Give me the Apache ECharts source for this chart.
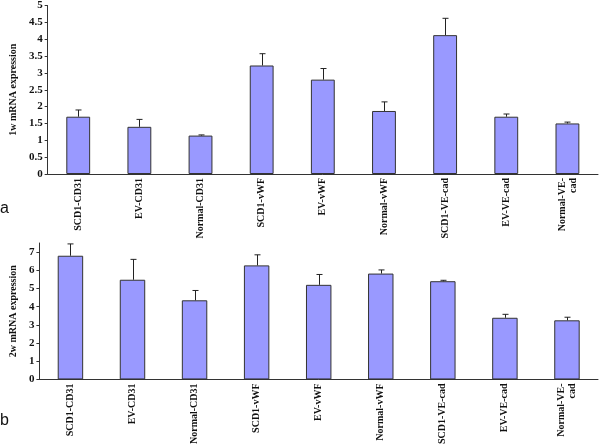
<!DOCTYPE html>
<html>
<head>
<meta charset="utf-8">
<script src="https://cdn.jsdelivr.net/npm/echarts@6/dist/echarts.min.js"></script>
<style>
  html, body { margin: 0; padding: 0; background: #fff; }
  #chart { width: 600px; height: 447px; }
</style>
</head>
<body>
<div id="chart"></div>
<script>
// categories (same for both panels)
const categories = ['SCD1-CD31', 'EV-CD31', 'Normal-CD31', 'SCD1-vWF', 'EV-vWF',
  'Normal-vWF', 'SCD1-VE-cad', 'EV-VE-cad', 'Normal-VE-\ncad']

// panel a: 1w
const means1 = [1.70, 1.40, 1.14, 3.22, 2.80, 1.87, 4.12, 1.70, 1.50]
const err1 = [0.20, 0.22, 0.02, 0.35, 0.33, 0.27, 0.50, 0.08, 0.04]

// panel b: 2w
const means2 = [6.80, 5.48, 4.35, 6.27, 5.20, 5.82, 5.40, 3.39, 3.25]
const err2 = [0.65, 1.12, 0.54, 0.58, 0.57, 0.20, 0.05, 0.19, 0.17]

const yTicks2 = [0, 1, 2, 3, 4, 5, 6, 7]

const serif = '"Liberation Serif", "DejaVu Serif", serif'
const barColor = '#9999ff'

function errData(means, errs) {
  return means.map((m, i) => [i, m, m + errs[i]])
}

// error bar: stem up from the bar top plus a small cap
function renderErr(params, api) {
  const base = api.coord([api.value(0), api.value(1)])
  const top = api.coord([api.value(0), api.value(2)])
  const x = Math.round(base[0]) + 0.5
  const style = { stroke: '#222', lineWidth: 1 }
  return {
    type: 'group',
    children: [
      { type: 'line', shape: { x1: x, y1: base[1], x2: x, y2: top[1] }, style: style },
      { type: 'line', shape: { x1: x - 3, y1: top[1], x2: x + 3, y2: top[1] }, style: style }
    ]
  }
}

const xAxisBase = {
  type: 'category',
  data: categories,
  axisLine: { lineStyle: { color: '#333', width: 1 } },
  axisTick: { length: 3, lineStyle: { color: '#333' } },
  axisLabel: {
    rotate: 90,
    interval: 0,
    margin: 4,
    fontFamily: serif,
    fontWeight: 'bold',
    fontSize: 10,
    color: '#111',
    lineHeight: 11
  }
}

const yAxisBase = {
  type: 'value',
  min: 0,
  nameLocation: 'middle',
  nameRotate: 90,
  nameTextStyle: { fontFamily: serif, fontWeight: 'bold', fontSize: 10, color: '#111' },
  axisLine: { show: true, lineStyle: { color: '#333', width: 1 } },
  axisTick: { show: true, length: 3, lineStyle: { color: '#333' } },
  axisLabel: { fontFamily: serif, fontWeight: 'bold', fontSize: 11, color: '#111', margin: 5 },
  splitLine: { show: false }
}

const chart = echarts.init(document.getElementById('chart'))

const option = {
  backgroundColor: '#fff',
  animation: false,
  grid: [
    { left: 41, right: 2, top: 4, height: 170 },
    { left: 36, right: 2, top: 243, height: 142 }
  ],
  xAxis: [
    Object.assign({}, xAxisBase, { gridIndex: 0 }),
    Object.assign({}, xAxisBase, { gridIndex: 1 })
  ],
  yAxis: [
    Object.assign({}, yAxisBase, {
      gridIndex: 0, max: 5, interval: 0.5,
      name: '1w mRNA expression', nameGap: 27
    }),
    Object.assign({}, yAxisBase, {
      gridIndex: 1, max: 7.5, interval: 1,
      name: '2w mRNA expression', nameGap: 21,
      axisTick: { show: true, length: 3, lineStyle: { color: '#333' }, customValues: yTicks2 },
      axisLabel: Object.assign({}, yAxisBase.axisLabel, { customValues: yTicks2 })
    })
  ],
  series: [
    {
      type: 'bar', xAxisIndex: 0, yAxisIndex: 0,
      data: means1, barWidth: '39%',
      itemStyle: { color: barColor, borderColor: '#333', borderWidth: 1 }
    },
    {
      type: 'custom', xAxisIndex: 0, yAxisIndex: 0,
      data: errData(means1, err1),
      encode: { x: 0, y: [1, 2] },
      renderItem: renderErr, z: 3
    },
    {
      type: 'bar', xAxisIndex: 1, yAxisIndex: 1,
      data: means2, barWidth: '41%',
      itemStyle: { color: barColor, borderColor: '#333', borderWidth: 1 }
    },
    {
      type: 'custom', xAxisIndex: 1, yAxisIndex: 1,
      data: errData(means2, err2),
      encode: { x: 0, y: [1, 2] },
      renderItem: renderErr, z: 3
    }
  ],
  graphic: [
    { type: 'text', left: 0, top: 201, style: { text: 'a', font: '16px "Liberation Sans", Arial, sans-serif', fill: '#111' } },
    { type: 'text', left: 0, top: 413, style: { text: 'b', font: '16px "Liberation Sans", Arial, sans-serif', fill: '#111' } }
  ]
}

chart.setOption(option)
</script>
</body>
</html>
